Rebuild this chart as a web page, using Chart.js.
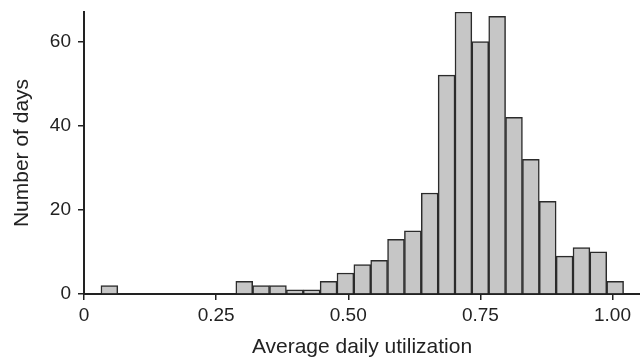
<!DOCTYPE html>
<html>
<head>
<meta charset="utf-8">
<script src="https://cdn.jsdelivr.net/npm/chart.js@4.4.1/dist/chart.umd.min.js"></script>
<style>
  html, body { margin: 0; padding: 0; background: #fff; }
  #wrap { width: 640px; height: 360px; }
</style>
</head>
<body>
<div id="wrap"><canvas id="grafico"></canvas></div>
<script>
// centros de cada barra (utilización) y cantidad de días
const binCenters = [0.0480, 0.0799, 0.1118, 0.1437, 0.1756, 0.2075, 0.2394, 0.2713,
  0.3032, 0.3351, 0.3670, 0.3989, 0.4308, 0.4627, 0.4946, 0.5265, 0.5584, 0.5903,
  0.6222, 0.6541, 0.6860, 0.7179, 0.7498, 0.7817, 0.8136, 0.8455, 0.8774, 0.9093,
  0.9412, 0.9731, 1.0050]
const dayCounts = [2, 0, 0, 0, 0, 0, 0, 0,
  3, 2, 2, 1, 1, 3, 5, 7, 8, 13,
  15, 24, 52, 67, 60, 66, 42, 32, 22, 9,
  11, 10, 3]

const xTicks = [0, 0.25, 0.5, 0.75, 1]
const xTickLabels = ['0', '0.25', '0.50', '0.75', '1.00']
const yTicks = [0, 20, 40, 60]

const fuente = 'Liberation Sans, Arial, Helvetica, sans-serif'
const tinta = '#222'

const grafico = new Chart(document.getElementById('grafico'), {
  type: 'bar',
  data: {
    datasets: [{
      label: 'Number of days',
      data: binCenters.map((c, i) => ({ x: c, y: dayCounts[i] })),
      backgroundColor: '#c6c6c6',
      borderColor: '#2b2b2b',
      borderWidth: 1.5,
      barPercentage: 1,
      categoryPercentage: 1
    }]
  },
  options: {
    responsive: true,
    maintainAspectRatio: false,
    animation: false,
    layout: { padding: { top: 12, right: 0, left: 0, bottom: 0 } },
    plugins: { legend: { display: false }, tooltip: { enabled: false } },
    scales: {
      x: {
        type: 'linear',
        min: 0,
        max: 1.052,
        offset: false,
        z: 1,
        grid: { offset: false, drawOnChartArea: false, drawTicks: true, tickLength: 6, color: tinta, lineWidth: 1.5 },
        border: { display: true, color: tinta, width: 2 },
        afterBuildTicks: s => { s.ticks = xTicks.map(v => ({ value: v })) },
        afterFit: s => { s.height = 66; s.paddingLeft = 0; s.paddingRight = 0 },
        ticks: {
          autoSkip: false,
          maxRotation: 0,
          padding: 4,
          color: tinta,
          font: { family: fuente, size: 19 },
          callback: (v) => xTickLabels[xTicks.indexOf(v)]
        },
        title: {
          display: true,
          text: 'Average daily utilization',
          color: tinta,
          font: { family: fuente, size: 21 },
          padding: { top: 0, bottom: 0 }
        }
      },
      y: {
        min: 0,
        max: 67,
        z: 1,
        grid: { drawOnChartArea: false, drawTicks: true, tickLength: 6, color: tinta, lineWidth: 1.5 },
        border: { display: true, color: tinta, width: 2 },
        afterBuildTicks: s => { s.ticks = yTicks.map(v => ({ value: v })) },
        afterFit: s => { s.width = 84; s.paddingTop = 0; s.paddingBottom = 0 },
        ticks: {
          padding: 7,
          color: tinta,
          font: { family: fuente, size: 19 }
        },
        title: {
          display: true,
          text: 'Number of days',
          color: tinta,
          font: { family: fuente, size: 21 },
          padding: { top: 10, bottom: 0 }
        }
      }
    }
  }
})
</script>
</body>
</html>
